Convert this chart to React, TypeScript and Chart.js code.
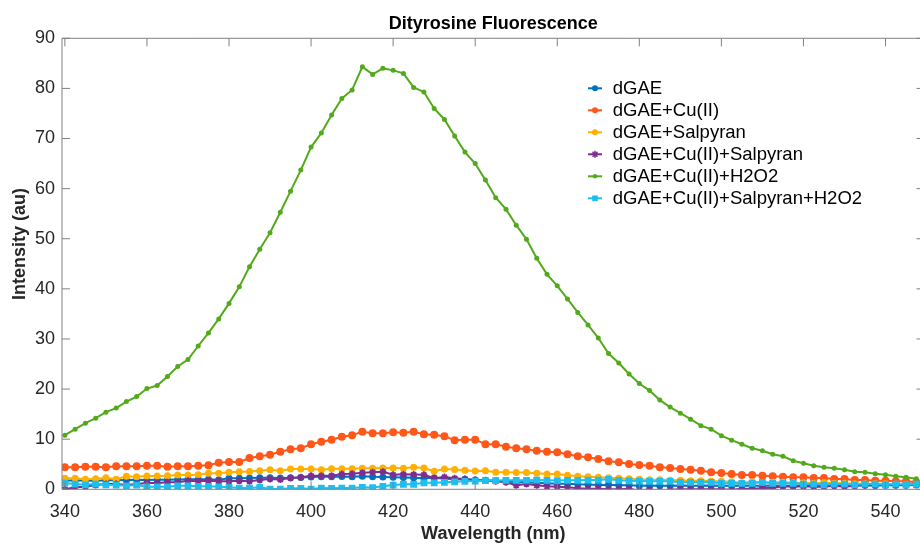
import React, { useEffect, useRef } from 'react';
import { Chart, registerables } from 'chart.js';

Chart.register(...registerables);

const chartTitle = 'Dityrosine Fluorescence';
const xAxisTitle = 'Wavelength (nm)';
const yAxisTitle = 'Intensity (au)';

const xTickValues = [340, 360, 380, 400, 420, 440, 460, 480, 500, 520, 540];
const yTickValues = [0, 10, 20, 30, 40, 50, 60, 70, 80, 90];

const wavelengths = [
  340, 342.5, 345, 347.5, 350, 352.5, 355, 357.5, 360, 362.5, 365, 367.5, 370, 372.5, 375, 377.5,
  380, 382.5, 385, 387.5, 390, 392.5, 395, 397.5, 400, 402.5, 405, 407.5, 410, 412.5, 415, 417.5,
  420, 422.5, 425, 427.5, 430, 432.5, 435, 437.5, 440, 442.5, 445, 447.5, 450, 452.5, 455, 457.5,
  460, 462.5, 465, 467.5, 470, 472.5, 475, 477.5, 480, 482.5, 485, 487.5, 490, 492.5, 495, 497.5,
  500, 502.5, 505, 507.5, 510, 512.5, 515, 517.5, 520, 522.5, 525, 527.5, 530, 532.5, 535, 537.5,
  540, 542.5, 545, 547.5,
];

const seriesNames = [
  'dGAE',
  'dGAE+Cu(II)',
  'dGAE+Salpyran',
  'dGAE+Cu(II)+Salpyran',
  'dGAE+Cu(II)+H2O2',
  'dGAE+Cu(II)+Salpyran+H2O2',
];

const dGAE = [
  1.7, 1.8, 1.75, 1.7, 1.8, 1.8, 1.85, 1.9, 1.85, 1.9, 1.9, 1.95, 2.0, 2.0, 2.0, 1.9,
  2.2, 2.2, 2.25, 2.3, 2.3, 2.25, 2.3, 2.35, 2.45, 2.5, 2.5, 2.55, 2.5, 2.6, 2.5, 2.45,
  2.4, 2.35, 2.3, 2.2, 2.3, 2.1, 2.0, 2.0, 1.85, 1.8, 1.7, 1.6, 1.4, 1.4, 1.3, 1.2,
  1.1, 1.1, 1.0, 0.95, 0.85, 0.9, 0.8, 0.8, 0.7, 0.75, 0.7, 0.7, 0.75, 0.7, 0.7, 0.75,
  0.7, 0.7, 0.75, 0.7, 0.7, 0.75, 0.7, 0.7, 0.75, 0.7, 0.75, 0.8, 0.75, 0.8, 0.8, 0.75,
  0.8, 0.8, 0.8, 0.85,
];

const dGAE_Cu = [
  4.4, 4.4, 4.5, 4.5, 4.4, 4.6, 4.6, 4.6, 4.7, 4.7, 4.5, 4.6, 4.6, 4.7, 4.8, 5.3,
  5.45, 5.45, 6.25, 6.6, 6.9, 7.5, 8.0, 8.2, 9.0, 9.5, 9.9, 10.5, 10.8, 11.5, 11.2, 11.2,
  11.4, 11.3, 11.5, 11.0, 10.9, 10.6, 9.8, 9.9, 9.9, 9.0, 9.0, 8.5, 8.2, 8.0, 7.7, 7.5,
  7.4, 7.0, 6.6, 6.4, 6.05, 5.6, 5.4, 5.05, 4.85, 4.7, 4.4, 4.25, 4.05, 3.9, 3.7, 3.4,
  3.25, 3.05, 2.85, 2.85, 2.7, 2.6, 2.5, 2.4, 2.4, 2.25, 2.25, 2.05, 2.05, 1.85, 1.85, 1.7,
  1.7, 1.6, 1.6, 1.4,
];

const dGAE_Salpyran = [
  2.2, 2.2, 2.0, 2.1, 2.3, 2.0, 2.6, 2.5, 2.65, 2.65, 2.7, 2.85, 2.85, 2.9, 3.2, 3.2,
  3.4, 3.5, 3.55, 3.7, 3.9, 3.7, 4.05, 4.05, 4.05, 3.9, 4.1, 4.1, 4.1, 4.2, 4.2, 4.25,
  4.25, 4.2, 4.4, 4.25, 3.6, 4.05, 3.95, 3.8, 3.65, 3.7, 3.4, 3.4, 3.35, 3.35, 3.2, 3.05,
  3.05, 2.8, 2.6, 2.5, 2.4, 2.3, 2.2, 2.1, 2.0, 1.9, 1.9, 1.8, 1.8, 1.7, 1.7, 1.6,
  1.6, 1.5, 1.3, 1.5, 1.4, 1.4, 1.4, 1.3, 1.3, 1.2, 1.3, 1.2, 1.2, 1.1, 1.1, 1.1,
  1.1, 1.0, 1.0, 1.0,
];

const dGAE_Cu_Salpyran = [
  0.0, 0.4, 0.5, 0.85, 1.05, 1.05, 0.85, 1.05, 1.25, 1.25, 1.4, 1.4, 1.7, 1.6, 1.7, 1.6,
  1.6, 1.7, 1.6, 1.85, 2.05, 1.95, 2.25, 2.4, 2.7, 2.7, 2.7, 3.05, 3.1, 3.3, 3.4, 3.5,
  2.9, 3.0, 2.95, 2.9, 2.2, 2.45, 2.2, 2.05, 1.85, 1.75, 1.6, 1.4, 0.8, 1.05, 0.8, 0.6,
  0.5, 0.4, 0.2, 0.1, 0.1, 0.0, 0.0, 0.1, -0.3, 0.0, -0.4, -0.1, 0.0, 0.0, 0.0, 0.0,
  0.0, -0.1, 0.1, 0.1, 0.2, 0.3, 0.6, 0.5, 0.6, 0.5, 0.5, 0.7, 0.5, 0.7, 0.8, 0.8,
  0.85, 0.85, 0.85, 1.0,
];

const dGAE_Cu_H2O2 = [
  10.8, 12.0, 13.2, 14.2, 15.4, 16.2, 17.5, 18.5, 20.1, 20.7, 22.5, 24.5, 25.9, 28.6, 31.2, 34.0,
  37.1, 40.4, 44.4, 47.9, 51.2, 55.3, 59.5, 63.7, 68.3, 71.1, 74.7, 78.0, 79.7, 84.3, 82.8, 84.0,
  83.6, 83.0, 80.2, 79.3, 76.0, 73.8, 70.5, 67.3, 65.0, 61.7, 58.2, 55.9, 52.7, 49.9, 46.1, 42.9,
  40.6, 38.0, 35.3, 32.8, 30.2, 27.1, 25.2, 23.0, 21.1, 19.7, 17.8, 16.4, 15.2, 14.0, 12.7, 12.0,
  10.7, 9.8, 9.0, 8.2, 7.7, 7.0, 6.6, 5.7, 5.2, 4.7, 4.4, 4.2, 3.9, 3.5, 3.4, 3.1,
  2.9, 2.6, 2.4, 2.1,
];

const dGAE_Cu_Salpyran_H2O2 = [
  1.25, 1.05, 0.9, 1.05, 0.9, 0.85, 0.7, 0.85, 0.5, 0.5, 0.5, 0.7, 0.7, 0.6, 0.6, 0.5,
  0.4, 0.25, 0.25, 0.4, 0.05, 0.05, 0.2, 0.2, 0.05, 0.25, 0.2, 0.25, 0.25, 0.4, 0.35, 0.6,
  0.85, 1.0, 1.0, 1.3, 1.3, 1.4, 1.5, 1.6, 1.65, 1.75, 1.75, 1.8, 1.8, 1.8, 1.85, 1.8,
  1.75, 1.8, 1.8, 1.85, 1.85, 2.0, 1.8, 1.7, 1.65, 1.6, 1.6, 1.6, 1.4, 1.4, 1.4, 1.4,
  1.2, 1.2, 1.2, 1.2, 1.4, 1.2, 1.2, 1.2, 1.05, 1.05, 0.9, 1.05, 1.05, 0.9, 1.05, 1.05,
  0.9, 1.05, 0.9, 1.05,
];

const seriesValues = [dGAE, dGAE_Cu, dGAE_Salpyran, dGAE_Cu_Salpyran, dGAE_Cu_H2O2, dGAE_Cu_Salpyran_H2O2];
const seriesColors = ['#0072BD', '#FF5719', '#FFB000', '#7E2F8E', '#52AA1B', '#1EBEEF'];
const seriesMarkers = ['circle', 'circle', 'circle', 'star', 'circle', 'rect'];
const seriesMarkerSizes = [3.5, 4, 3.5, 3.5, 2.5, 4.8];
const legendMarkerSizes = [3, 3, 3, 3.5, 2.2, 4];

const FONT = "'Liberation Sans', Arial, Helvetica, sans-serif";
const X_MIN = 339.3;
const X_MAX = 549.5;
const CANVAS_W = 930;
const CANVAS_H = 544;

function drawMarker(ctx: CanvasRenderingContext2D, style: string, x: number, y: number, r: number, color: string) {
  ctx.save();
  ctx.fillStyle = color;
  ctx.strokeStyle = color;
  ctx.lineWidth = 1.5;
  ctx.beginPath();
  if (style === 'circle') {
    ctx.arc(x, y, r, 0, Math.PI * 2);
    ctx.fill();
  } else if (style === 'rect') {
    const s = r * Math.SQRT1_2;
    ctx.rect(x - s, y - s, 2 * s, 2 * s);
    ctx.fill();
  } else if (style === 'star') {
    for (let k = 0; k < 4; k++) {
      const a = (k * Math.PI) / 4;
      ctx.moveTo(x - Math.cos(a) * r, y - Math.sin(a) * r);
      ctx.lineTo(x + Math.cos(a) * r, y + Math.sin(a) * r);
    }
    ctx.stroke();
  }
  ctx.restore();
}

const matlabFrame = {
  id: 'matlabFrame',
  afterDatasetsDraw(chart: any) {
    const { ctx, chartArea } = chart;
    const { left, right, top, bottom } = chartArea;
    const xs = chart.scales.x;
    const ys = chart.scales.y;
    const tl = 8;
    ctx.save();
    ctx.strokeStyle = '#808080';
    ctx.lineWidth = 1;
    ctx.beginPath();
    ctx.rect(left, top, right - left, bottom - top);
    ctx.stroke();
    ctx.beginPath();
    xTickValues.forEach((v) => {
      const px = xs.getPixelForValue(v);
      ctx.moveTo(px, bottom);
      ctx.lineTo(px, bottom - tl);
      ctx.moveTo(px, top);
      ctx.lineTo(px, top + tl);
    });
    yTickValues.forEach((v) => {
      const py = ys.getPixelForValue(v);
      ctx.moveTo(left, py);
      ctx.lineTo(left + tl, py);
      ctx.moveTo(right, py);
      ctx.lineTo(right - tl, py);
    });
    ctx.stroke();
    ctx.restore();
  },
  afterDraw(chart: any) {
    const { ctx, chartArea } = chart;
    ctx.save();
    // chart title
    ctx.fillStyle = '#000000';
    ctx.font = `bold 18px ${FONT}`;
    ctx.textAlign = 'center';
    ctx.textBaseline = 'middle';
    ctx.fillText(chartTitle, (chartArea.left + chartArea.right) / 2, 23.8);
    // y axis title
    ctx.save();
    ctx.translate(19.8, 244);
    ctx.rotate(-Math.PI / 2);
    ctx.fillStyle = '#262626';
    ctx.fillText(yAxisTitle, 0, 0);
    ctx.restore();
    // legend
    ctx.font = `18.5px ${FONT}`;
    ctx.textAlign = 'left';
    ctx.textBaseline = 'middle';
    seriesNames.forEach((name, i) => {
      const y = 88.3 + i * 22;
      ctx.strokeStyle = seriesColors[i];
      ctx.lineWidth = 2;
      ctx.beginPath();
      ctx.moveTo(588, y);
      ctx.lineTo(602, y);
      ctx.stroke();
      drawMarker(ctx, seriesMarkers[i], 595, y, legendMarkerSizes[i], seriesColors[i]);
      ctx.fillStyle = '#000000';
      ctx.fillText(name, 612.7, y + 0.5);
    });
    ctx.restore();
  },
};

export default function App() {
  const canvasRef = useRef<HTMLCanvasElement | null>(null);

  useEffect(() => {
    const canvas = canvasRef.current;
    if (!canvas) return;
    const datasets = seriesNames.map((name, i) => ({
      label: name,
      data: wavelengths.map((x, j) => ({ x, y: seriesValues[i][j] })),
      borderColor: seriesColors[i],
      backgroundColor: seriesColors[i],
      pointBackgroundColor: seriesColors[i],
      pointBorderColor: seriesColors[i],
      pointStyle: seriesMarkers[i],
      pointRadius: seriesMarkerSizes[i],
      pointBorderWidth: seriesMarkers[i] === 'star' ? 1.8 : 0,
      pointHoverRadius: seriesMarkerSizes[i],
      borderWidth: 2,
      tension: 0,
      fill: false,
      order: seriesNames.length - 1 - i,
    }));

    const chart = new Chart(canvas, {
      type: 'line',
      data: { datasets },
      plugins: [matlabFrame],
      options: {
        animation: false,
        responsive: false,
        maintainAspectRatio: false,
        devicePixelRatio: 1,
        layout: { padding: { top: 38.3, right: CANVAS_W - 924.5, left: 0, bottom: 0 } },
        plugins: {
          legend: { display: false },
          title: { display: false },
          tooltip: { enabled: false },
        },
        scales: {
          x: {
            type: 'linear',
            min: X_MIN,
            max: X_MAX,
            afterBuildTicks: (scale: any) => {
              scale.ticks = xTickValues.map((v) => ({ value: v }));
            },
            afterFit: (scale: any) => {
              scale.height = CANVAS_H - 489.3;
            },
            grid: { display: false, drawTicks: false, tickLength: 0 },
            border: { display: false },
            ticks: {
              color: '#262626',
              font: { family: FONT, size: 18 },
              padding: 11.7,
              maxRotation: 0,
              autoSkip: false,
              callback: (v: any) => String(v),
            },
            title: {
              display: true,
              text: xAxisTitle,
              color: '#262626',
              font: { family: FONT, size: 18, weight: 'bold', lineHeight: 1 },
              padding: { top: 0, bottom: 0.5 },
            },
          },
          y: {
            type: 'linear',
            min: 0,
            max: 90,
            afterBuildTicks: (scale: any) => {
              scale.ticks = yTickValues.map((v) => ({ value: v }));
            },
            afterFit: (scale: any) => {
              scale.width = 62;
            },
            grid: { display: false, drawTicks: false, tickLength: 0 },
            border: { display: false },
            ticks: {
              color: '#262626',
              font: { family: FONT, size: 18 },
              padding: 7,
              autoSkip: false,
              callback: (v: any) => String(v),
            },
          },
        },
      },
    });
    return () => chart.destroy();
  }, []);

  return (
    <div style={{ position: 'fixed', left: 0, top: 0, width: 920, height: 544, overflow: 'hidden', background: '#ffffff' }}>
      <canvas ref={canvasRef} width={CANVAS_W} height={CANVAS_H} style={{ width: CANVAS_W, height: CANVAS_H, display: 'block' }} />
    </div>
  );
}
